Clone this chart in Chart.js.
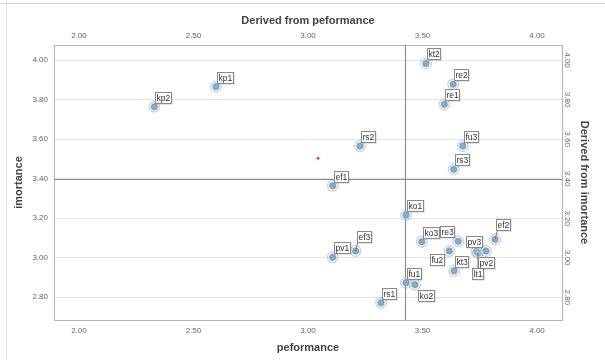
<!DOCTYPE html>
<html><head><meta charset="utf-8">
<script src="https://cdn.jsdelivr.net/npm/chart.js@4.4.0/dist/chart.umd.min.js"></script>
<style>
html,body{margin:0;padding:0;background:#fff;}
#wrap{position:relative;width:605px;height:360px;overflow:hidden;background:#fff;}
#frameL{position:absolute;left:6px;top:0;width:1px;height:360px;background:#e2e2e2;}
#frameT{position:absolute;left:0;top:3px;width:605px;height:1px;background:#d4d4d4;}
canvas{position:absolute;left:0;top:0;}
</style></head><body>
<div id="wrap"><div id="frameL"></div><div id="frameT"></div><canvas id="c" width="605" height="360"></canvas></div>
<script>
// ---- data ----
const itemNames   = ['kt2','re2','re1','kp1','kp2','rs2','fu3','rs3','ef1','ko1','ko3','re3','ef2','pv3','lt1','pv2','fu2','ef3','pv1','kt3','fu1','ko2','rs1'];
const performance = [3.515,3.634,3.595,2.598,2.329,3.227,3.676,3.636,3.108,3.428,3.497,3.656,3.817,3.736,3.742,3.777,3.617,3.208,3.108,3.638,3.428,3.467,3.319];
const importance  = [3.983,3.877,3.776,3.865,3.764,3.565,3.565,3.447,3.364,3.216,3.081,3.083,3.093,3.031,3.024,3.034,3.034,3.034,3.002,2.934,2.874,2.864,2.772];
const xTickValues = [2.00,2.50,3.00,3.50,4.00];
const yTickValues = [2.80,3.00,3.20,3.40,3.60,3.80,4.00];
const xRange = [1.891,4.109];
const yRange = [2.685,4.076];
const refPerformance = 3.425;
const refImportance = 3.40;
const centroidX = [3.044];
const centroidY = [3.503];

// ---- styling ----
const FONT = '"Liberation Sans", Arial, Helvetica, sans-serif';
const labelAnchor = {re3:'nw', fu2:'sw', pv3:'n', lt1:'sfar', pv2:'s', ko2:'se', ef2:'nefar', ef3:'nefar'};

const pts = itemNames.map((n,i)=>({x:performance[i], y:importance[i]}));
const cpts = centroidX.map((v,i)=>({x:v, y:centroidY[i]}));

const refLines = {
  id:'refLines',
  beforeDatasetsDraw(chart){
    const {ctx, chartArea:a, scales:{x,y}} = chart;
    ctx.save();
    ctx.strokeStyle = '#8c8c8c'; ctx.lineWidth = 1.2;
    const px = Math.round(x.getPixelForValue(refPerformance))+0.5;
    const py = Math.round(y.getPixelForValue(refImportance))+0.5;
    ctx.beginPath(); ctx.moveTo(px,a.top); ctx.lineTo(px,a.bottom); ctx.stroke();
    ctx.beginPath(); ctx.moveTo(a.left,py); ctx.lineTo(a.right,py); ctx.stroke();
    ctx.restore();
  }
};

const pointLabels = {
  id:'pointLabels',
  afterDatasetsDraw(chart){
    const ctx = chart.ctx;
    const meta = chart.getDatasetMeta(1);
    ctx.save();
    ctx.font = '8.5px ' + FONT;
    ctx.textBaseline = 'middle';
    meta.data.forEach((el,i)=>{
      const name = itemNames[i];
      const px = el.x, py = el.y;
      const w = Math.round(ctx.measureText(name).width) + 3, h = 12;
      let bx, by, lead = null;
      switch(labelAnchor[name] || 'ne'){
        case 'nw': bx = px-3-w; by = py-3-h; break;
        case 'sw': bx = px-4-w; by = py+3; break;
        case 'n':  bx = px-2-w/2; by = py-4-h; break;
        case 's':  bx = px+1-w/2; by = py+6; break;
        case 'sfar': bx = px-w/2; by = py+15; lead = [px, by]; break;
        case 'se': bx = px+3; by = py+5; break;
        case 'nefar': bx = px+1; by = py-8-h; lead = [bx+1, by+h]; break;
        default: bx = px+1; by = py-3-h;
      }
      bx = Math.round(bx); by = Math.round(by);
      if (lead){
        ctx.strokeStyle = '#777'; ctx.lineWidth = 1;
        ctx.beginPath(); ctx.moveTo(px,py); ctx.lineTo(lead[0],lead[1]); ctx.stroke();
      }
      ctx.fillStyle = 'rgba(0,0,0,0.10)';
      ctx.fillRect(bx+1, by+1, w, h);
      ctx.fillStyle = '#fff';
      ctx.fillRect(bx, by, w, h);
      ctx.strokeStyle = '#8a8a8a'; ctx.lineWidth = 1;
      ctx.strokeRect(bx+0.5, by+0.5, w-1, h-1);
      ctx.fillStyle = '#333';
      ctx.fillText(name, bx+1.5, by+h/2+0.5);
    });
    ctx.restore();
  }
};

const rightTicks = {
  id:'rightTicks',
  afterDraw(chart){
    const ctx = chart.ctx, s = chart.scales.y2;
    ctx.save();
    ctx.font = '8px ' + FONT;
    ctx.fillStyle = '#666';
    ctx.textAlign = 'center'; ctx.textBaseline = 'middle';
    s.ticks.forEach(t=>{
      const py = s.getPixelForValue(t.value);
      ctx.save();
      ctx.translate(s.left + 5.5, py);
      ctx.rotate(Math.PI/2);
      ctx.fillText(t.value.toFixed(2), 0, 0);
      ctx.restore();
    });
    ctx.restore();
  }
};

const tickFont = {size:8, family:FONT};
const titleFont = {size:11, weight:'bold', family:FONT};

new Chart(document.getElementById('c'), {
  type:'scatter',
  data:{datasets:[
    {data:pts, pointRadius:5.5, pointBackgroundColor:'rgba(205,205,205,0.4)', pointBorderColor:'rgba(180,180,180,0.6)', pointBorderWidth:1, xAxisID:'x', yAxisID:'y'},
    {data:pts, pointRadius:3, pointBackgroundColor:'#3f9fe2', pointBorderColor:'#2b6c9e', pointBorderWidth:0.8, xAxisID:'x', yAxisID:'y'},
    {data:cpts, pointRadius:1.4, pointBackgroundColor:'#ff2a2a', pointBorderColor:'#ff2a2a', pointBorderWidth:0, xAxisID:'x', yAxisID:'y'}
  ]},
  options:{
    responsive:false, animation:false, devicePixelRatio:1,
    layout:{padding:0},
    plugins:{legend:{display:false}, tooltip:{enabled:false}},
    scales:{
      x:{type:'linear', position:'bottom', min:xRange[0], max:xRange[1],
        afterBuildTicks:s=>{s.ticks = xTickValues.map(v=>({value:v}));},
        afterFit:s=>{s.height = 40;},
        grid:{display:false, drawTicks:false}, border:{display:true, color:'#b5b5b5'},
        ticks:{padding:6, color:'#666', font:tickFont, callback:v=>Number(v).toFixed(2)},
        title:{display:true, text:'peformance', color:'#444', font:titleFont, padding:{top:0,bottom:5}}},
      x2:{type:'linear', position:'top', min:xRange[0], max:xRange[1],
        afterBuildTicks:s=>{s.ticks = xTickValues.map(v=>({value:v}));},
        afterFit:s=>{s.height = 45;},
        grid:{display:false, drawTicks:false}, border:{display:true, color:'#b5b5b5'},
        ticks:{padding:4, color:'#666', font:tickFont, callback:v=>Number(v).toFixed(2)},
        title:{display:true, text:'Derived from peformance', color:'#444', font:titleFont, padding:{top:14,bottom:0}}},
      y:{type:'linear', position:'left', min:yRange[0], max:yRange[1],
        afterBuildTicks:s=>{s.ticks = yTickValues.map(v=>({value:v}));},
        afterFit:s=>{s.width = 54;},
        grid:{display:true, drawTicks:false, color:'#e3e3e3', lineWidth:1}, border:{display:true, color:'#b5b5b5'},
        ticks:{padding:6, color:'#666', font:tickFont, callback:v=>Number(v).toFixed(2)},
        title:{display:true, text:'imortance', color:'#444', font:titleFont, padding:{top:12,bottom:0}}},
      y2:{type:'linear', position:'right', min:yRange[0], max:yRange[1],
        afterBuildTicks:s=>{s.ticks = yTickValues.map(v=>({value:v}));},
        afterFit:s=>{s.width = 43;},
        grid:{display:false, drawTicks:false}, border:{display:true, color:'#b5b5b5'},
        ticks:{display:false},
        title:{display:true, text:'Derived from imortance', color:'#444', font:titleFont, padding:{top:14,bottom:0}}}
    }
  },
  plugins:[refLines, pointLabels, rightTicks]
});
</script>
</body></html>
